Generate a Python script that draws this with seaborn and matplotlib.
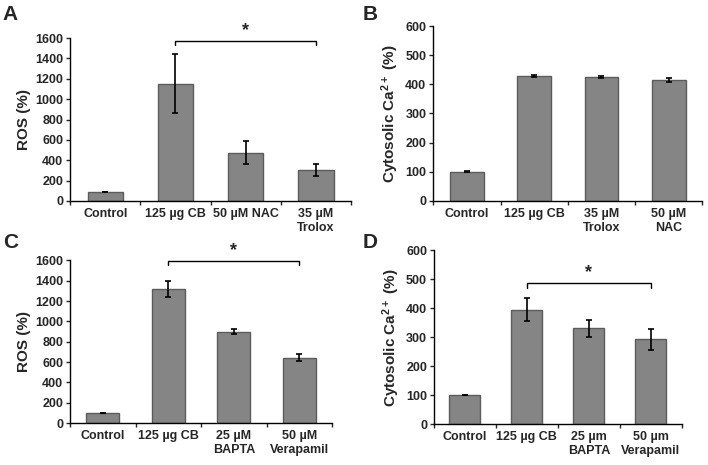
import numpy as np
import pandas as pd
import matplotlib
matplotlib.use('Agg')
import matplotlib.pyplot as plt
import seaborn as sns

# Panel data
cats_a = ['Control', '125 µg CB', '50 µM NAC', '35 µM\nTrolox']
ros_a = [90, 1150, 475, 305]
err_a = [0, 290, 115, 62]

cats_b = ['Control', '125 µg CB', '35 µM\nTrolox', '50 µM\nNAC']
ca_b = [100, 428, 424, 415]
err_b = [2, 3, 3, 6]

cats_c = ['Control', '125 µg CB', '25 µM\nBAPTA', '50 µM\nVerapamil']
ros_c = [100, 1320, 900, 645]
err_c = [3, 80, 28, 35]

cats_d = ['Control', '125 µg CB', '25 µm\nBAPTA', '50 µm\nVerapamil']
ca_d = [100, 395, 330, 292]
err_d = [0, 40, 28, 35]

sns.set_style('white')
plt.rcParams['font.family'] = ['Liberation Sans', 'DejaVu Sans']
plt.rcParams['font.weight'] = 'bold'
plt.rcParams['mathtext.fontset'] = 'custom'
plt.rcParams['mathtext.default'] = 'bf'
plt.rcParams['mathtext.bf'] = 'Liberation Sans:bold'
plt.rcParams['mathtext.rm'] = 'Liberation Sans:bold'

fig = plt.figure(figsize=(7.08, 4.65), dpi=100)

ros_label = 'ROS (%)'
ca_label = r'Cytosolic Ca$^{2+}$ (%)'


def draw_panel(rect, cats, vals, errs, ymax, ystep, ylabel, letter, letter_xy,
               bracket=None):
    ax = fig.add_axes(rect)
    df = pd.DataFrame({'group': cats, 'value': vals})
    sns.barplot(data=df, x='group', y='value', color='#858585',
                edgecolor='#5c5c5c', linewidth=1.0, width=0.5,
                saturation=1, errorbar=None, ax=ax)
    pos = np.arange(len(cats))
    ax.errorbar(pos, vals, yerr=errs, fmt='none', ecolor='black',
                elinewidth=1.2, capsize=2, capthick=1.2)
    ax.set_ylim(0, ymax)
    ax.set_xlim(-0.5, len(cats) - 0.5)
    ax.set_yticks(np.arange(0, ymax + 1, ystep))
    ax.set_xlabel('')
    ax.set_ylabel(ylabel, fontsize=11, fontweight='bold', labelpad=3)
    ax.tick_params(axis='y', labelsize=9, length=3, width=1, direction='out',
                   left=True, pad=2)
    ax.tick_params(axis='x', which='major', labelsize=9, length=0, pad=5)
    ax.set_xticks(np.arange(-0.5, len(cats), 1.0), minor=True)
    ax.tick_params(axis='x', which='minor', length=3, width=1, bottom=True,
                   direction='out')
    for lab in ax.get_xticklabels() + ax.get_yticklabels():
        lab.set_fontweight('bold')
        lab.set_linespacing(1.2)
    for s in ['top', 'right']:
        ax.spines[s].set_visible(False)
    for s in ['left', 'bottom']:
        ax.spines[s].set_color('black')
        ax.spines[s].set_linewidth(1.0)
    fig.text(letter_xy[0], letter_xy[1], letter, fontsize=15,
             fontweight='bold', ha='left', va='top')
    if bracket is not None:
        i0, i1, yb, dy = bracket
        ax.plot([i0, i0, i1, i1], [yb - dy, yb, yb, yb - dy], color='black',
                lw=1.0, clip_on=False)
        ax.text((i0 + i1) / 2, yb + dy * 0.5, '*', ha='center', va='bottom',
                fontsize=13, fontweight='bold')
    return ax


draw_panel([0.099, 0.568, 0.397, 0.350], cats_a, ros_a, err_a, 1600, 200,
           ros_label, 'A', (0.004, 0.99), bracket=(1, 3, 1570, 40))
draw_panel([0.612, 0.568, 0.380, 0.376], cats_b, ca_b, err_b, 600, 100,
           ca_label, 'B', (0.512, 0.99))
draw_panel([0.099, 0.090, 0.370, 0.350], cats_c, ros_c, err_c, 1600, 200,
           ros_label, 'C', (0.004, 0.50), bracket=(1, 3, 1590, 40))
draw_panel([0.613, 0.088, 0.350, 0.374], cats_d, ca_d, err_d, 600, 100,
           ca_label, 'D', (0.512, 0.50), bracket=(1, 3, 486, 15))

fig.savefig('out.png', dpi=100)
